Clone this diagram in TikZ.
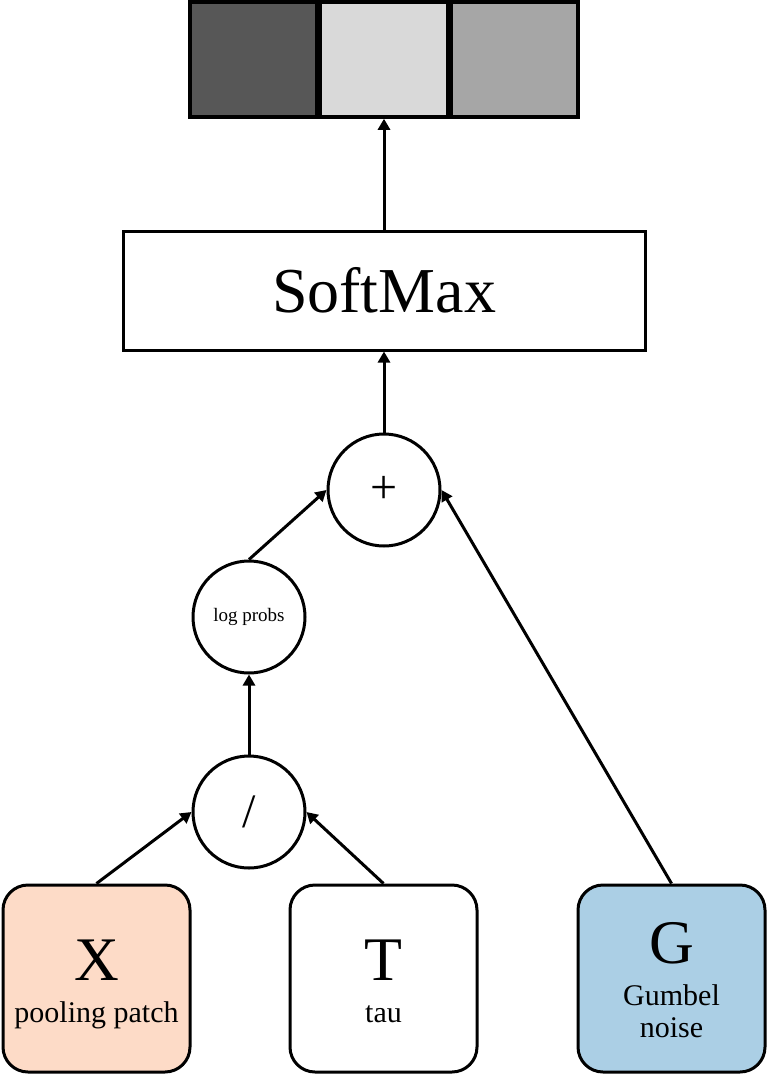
\documentclass[tikz,border=0pt]{standalone}
\usepackage{fontspec}
\setmainfont{Liberation Serif}
\usetikzlibrary{arrows.meta,positioning}
\definecolor{patchpeach}{HTML}{FDDBC7}
\definecolor{noiseblue}{HTML}{ABCFE5}
\definecolor{celldark}{HTML}{575757}
\definecolor{celllight}{HTML}{D9D9D9}
\definecolor{cellmid}{HTML}{A6A6A6}

\begin{document}
\begin{tikzpicture}[
    x=1pt, y=-1pt,
    line width=3pt,
    arrow/.style={-{Triangle[length=11pt,width=12pt]}, line width=3pt},
    cell/.style={
        draw,
        line width=3.5pt,
        minimum width=127pt,
        minimum height=115pt,
        inner sep=0pt
    },
    opnode/.style={
        draw,
        circle,
        minimum size=112pt,
        inner sep=0pt,
        font=\fontsize{48}{50}\selectfont
    },
    inbox/.style={
        draw,
        rounded corners=25pt,
        minimum width=187pt,
        minimum height=187pt,
        inner sep=0pt
    },
    symb/.style={anchor=base, inner sep=0pt, font=\fontsize{62}{64}\selectfont},
    inlabel/.style={anchor=base, inner sep=0pt, font=\fontsize{30}{32}\selectfont}
]
\useasboundingbox (0,0) rectangle (770,1076);

% output probabilities
\node[cell, fill=celllight] (p2) at (384,59.5) {};
\node[cell, fill=celldark, left=0pt of p2] (p1) {};
\node[cell, fill=cellmid, right=0pt of p2] (p3) {};

\node[draw, minimum width=522pt, minimum height=119pt,
      font=\fontsize{64}{64}\selectfont] (softmax) at (384,290.5) {SoftMax};

\node[opnode] (plus) at (384,490) {+};
\node[opnode, font=\fontsize{19}{20}\selectfont] (logp) at (249,617) {log probs};
\node[opnode] (div) at (249,812) {/};

% inputs
\node[inbox, fill=patchpeach] (patch) at (96.5,978.5) {};
\node[inbox, right=97pt of patch] (tau) {};
\node[inbox, fill=noiseblue, right=98pt of tau] (noise) {};

\node[symb] (patchsym) at ([yshift=-1.5pt]patch.center) {X};
\node[inlabel] (patchtxt) at ([yshift=-43.5pt]patch.center) {pooling patch};
\node[symb] (tausym) at ([yshift=-1.5pt]tau.center) {T};
\node[inlabel] (tautxt) at ([yshift=-43.5pt]tau.center) {tau};
\node[symb] (noisesym) at ([yshift=15.5pt]noise.center) {G};
\node[inlabel] (noisetxt1) at ([yshift=-26.5pt]noise.center) {Gumbel};
\node[inlabel] (noisetxt2) at ([yshift=-58.5pt]noise.center) {noise};

\draw[arrow] (patch.north) -- (div.west);
\draw[arrow] (tau.north) -- (div.east);
\draw[arrow] (div.north) -- (logp.south);
\draw[arrow] (logp.north) -- (plus.west);
\draw[arrow] (noise.north) -- (plus.east);
\draw[arrow] (plus.north) -- (softmax.south);
\draw[arrow] (softmax.north) -- (p2.south);

\end{tikzpicture}
\end{document}
